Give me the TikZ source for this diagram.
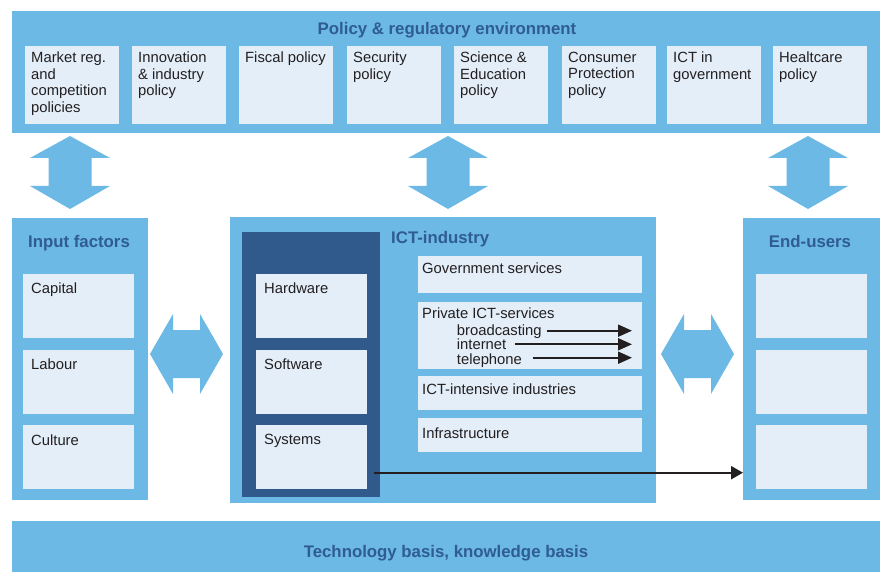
\documentclass[tikz,border=0pt]{standalone}
\usepackage{fontspec}
\setmainfont{Liberation Sans}
\usetikzlibrary{arrows.meta}

\definecolor{bandblue}{RGB}{108,185,230}
\definecolor{cellblue}{RGB}{227,238,249}
\definecolor{darkblue}{RGB}{48,90,140}
\definecolor{headblue}{RGB}{47,92,146}
\definecolor{inkblack}{RGB}{35,31,32}

\tikzset{
  band/.style={fill=bandblue},
  cell/.style={fill=cellblue},
  panel/.style={fill=bandblue, anchor=north west, inner sep=0pt},
  heading/.style={font=\fontsize{16.8}{19}\selectfont\bfseries, text=headblue, inner sep=0pt},
  celltext/.style={font=\fontsize{14.8}{16.4}\selectfont, text=inkblack, align=left, anchor=north west, inner sep=0pt},
  flow/.style={fill=bandblue},
  feed/.style={draw=inkblack, line width=2pt, -{Triangle[length=14pt,width=12pt]}},
}

\begin{document}
\begin{tikzpicture}[x=1pt, y=-1pt]
  \useasboundingbox (0,0) rectangle (880,572);

  % policy band
  \fill[band] (12,11) rectangle (880,133);
  \node[heading, anchor=base] (policy) at (447,35) {Policy \& regulatory environment};
  \foreach \bx/\name/\txt in {25/mkt/{Market reg.\\and\\competition\\policies},
      132/inno/{Innovation\\\& industry\\policy}, 239/fisc/{Fiscal policy},
      347/sec/{Security\\policy}, 454/sci/{Science \&\\Education\\policy},
      562/cons/{Consumer\\Protection\\policy}, 667/gov/{ICT in\\government},
      773/health/{Healtcare\\policy}} {
    \fill[cell] (\bx,46) rectangle ++(94,78);
    \node[celltext] (pol-\name) at (\bx+6,52) {\txt};
  }

  % block arrows
  \foreach \cx in {70,448,808}
    \fill[flow] (\cx,136) -- ++(40,22) -- ++(-18.5,0) -- ++(0,28) -- ++(18.5,0)
      -- (\cx,209) -- ++(-40,-23) -- ++(18.5,0) -- ++(0,-28) -- ++(-18.5,0) -- cycle;
  \foreach \lx in {150,661}
    \fill[flow] (\lx,354) -- ++(23,-40) -- ++(0,16) -- ++(27,0) -- ++(0,-16)
      -- ++(23,40) -- ++(-23,40) -- ++(0,-16) -- ++(-27,0) -- ++(0,16) -- cycle;

  % side and middle panels
  \node[panel, minimum width=136pt, minimum height=282pt] (inputs) at (12,218) {};
  \node[panel, minimum width=426pt, minimum height=286pt] (ict) at (230,217) {};
  \node[panel, minimum width=137pt, minimum height=282pt] (users) at (743,218) {};
  \fill[darkblue] (242,232) rectangle (380,497);

  \node[heading, anchor=base] (inputs-title) at (79,247.5) {Input factors};
  \node[heading, anchor=base west] (ict-title) at (391,243) {ICT-industry};
  \node[heading, anchor=base] (users-title) at (810,247.5) {End-users};

  \foreach \cy in {274,350,425} {
    \fill[cell] (23,\cy) rectangle ++(111,64);
    \fill[cell] (256,\cy) rectangle ++(111,64);
    \fill[cell] (756,\cy) rectangle ++(111,64);
  }
  \node[celltext] (capital) at (31,283) {Capital};
  \node[celltext] (labour) at (31,359) {Labour};
  \node[celltext] (culture) at (31,434.3) {Culture};
  \node[celltext] (hardware) at (264,283) {Hardware};
  \node[celltext] (software) at (264,359) {Software};
  \node[celltext] (systems) at (264,434.3) {Systems};

  % ICT services
  \fill[cell] (418,256) rectangle (642,293);
  \fill[cell] (418,302) rectangle (642,369);
  \fill[cell] (418,376) rectangle (642,410);
  \fill[cell] (418,418) rectangle (642,452);
  \node[celltext] (govserv) at (422,262.6) {Government services};
  \node[celltext] (private) at (422,307.6) {Private ICT-services};
  \node[celltext, anchor=base west] (bcast) at (456.7,335.7) {broadcasting};
  \node[celltext, anchor=base west] (inet) at (456.7,349.7) {internet};
  \node[celltext, anchor=base west] (phone) at (456.7,364) {telephone};
  \node[celltext] (intensive) at (422,383.6) {ICT-intensive industries};
  \node[celltext] (infra) at (422,427.6) {Infrastructure};

  \coordinate (bctip) at (632,330.7);
  \coordinate (intip) at (632,344.3);
  \coordinate (phtip) at (632,357.7);
  \draw[feed] (bcast.east |- bctip) ++(5,0) -- (bctip);
  \draw[feed] (inet.east |- intip) ++(9,0) -- (intip);
  \draw[feed] (phone.east |- phtip) ++(10.5,0) -- (phtip);

  \coordinate (sysout) at (374,472.7);
  \draw[feed, line width=2.2pt, -{Triangle[length=12pt,width=13pt]}] (sysout) -- (sysout -| users.west);

  % basis band
  \fill[band] (12,521) rectangle (880,572);
  \node[heading, anchor=base] (basis) at (446,557) {Technology basis, knowledge basis};
\end{tikzpicture}
\end{document}
